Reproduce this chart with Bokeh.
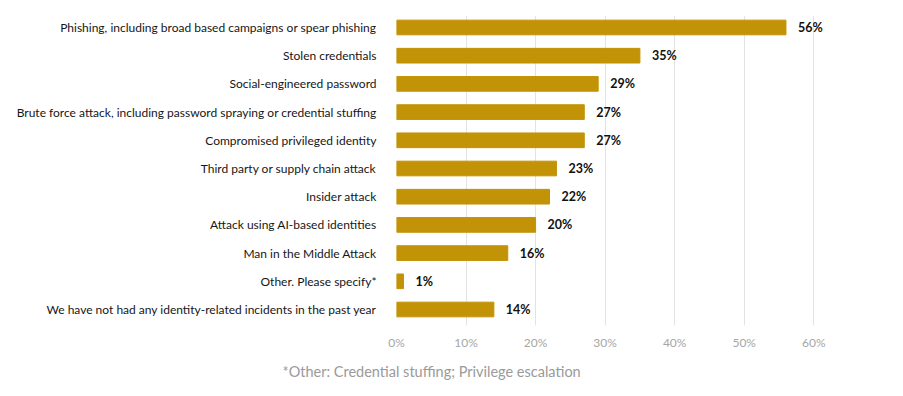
from bokeh.plotting import figure
from bokeh.models import Range1d, FixedTicker, Title, ColumnDataSource, LabelSet
from bokeh.embed import file_html
from bokeh.resources import INLINE
from bokeh.core.properties import value

categories = [
    "Phishing, including broad based campaigns or spear phishing",
    "Stolen credentials",
    "Social-engineered password",
    "Brute force attack, including password spraying or credential stuffing",
    "Compromised privileged identity",
    "Third party or supply chain attack",
    "Insider attack",
    "Attack using AI-based identities",
    "Man in the Middle Attack",
    "Other. Please specify*",
    "We have not had any identity-related incidents in the past year",
]
values = [56, 35, 29, 27, 27, 23, 22, 20, 16, 1, 14]
x_ticks = [0, 10, 20, 30, 40, 50, 60]
footnote = "*Other: Credential stuffing; Privilege escalation"

FONT = "Lato"
BAR = "#C39307"

idx = list(range(len(categories)))
src = ColumnDataSource(dict(
    y=idx, v=values,
    lab=[f"{v}%" for v in values],
))

p = figure(width=900, height=394, output_backend="svg", toolbar_location=None,
           x_range=Range1d(0, 66), y_range=Range1d(10.567, -0.425),
           min_border_left=396, min_border_right=45, min_border_top=15,
           min_border_bottom=69)
p.outline_line_color = None
p.background_fill_color = "white"
p.border_fill_color = "white"

p.hbar(y="y", right="v", left=0, height=0.52, source=src, color=BAR)

labels = LabelSet(x="v", y="y", text="lab", source=src, x_offset=12,
                  text_baseline="middle", text_font=value(FONT),
                  text_font_style="bold", text_font_size="12.5px",
                  text_color="#111111")
p.add_layout(labels)

p.yaxis.ticker = FixedTicker(ticks=idx)
p.yaxis.major_label_overrides = {i: c for i, c in enumerate(categories)}
p.yaxis.major_label_text_font = FONT
p.yaxis.major_label_text_font_size = "12px"
p.yaxis.major_label_text_color = "#161616"
p.yaxis.major_label_standoff = 20
p.yaxis.major_tick_out = 0
p.yaxis.major_tick_in = 0
p.yaxis.major_tick_line_color = None
p.yaxis.minor_tick_line_color = None
p.yaxis.axis_line_color = None

p.xaxis.ticker = FixedTicker(ticks=x_ticks)
p.xaxis.major_label_overrides = {t: f"{t}%" for t in x_ticks}
p.xaxis.major_label_text_font = FONT
p.xaxis.major_label_text_font_size = "12px"
p.xaxis.major_label_text_color = "#a6a6a6"
p.xaxis.major_label_standoff = 9
p.xaxis.major_tick_out = 0
p.xaxis.major_tick_in = 0
p.xaxis.major_tick_line_color = None
p.xaxis.minor_tick_line_color = None
p.xaxis.axis_line_color = None

p.ygrid.grid_line_color = None
p.xgrid.grid_line_color = "#e3e3e3"
p.xgrid.grid_line_width = 1

note = Title(text=footnote, align="left", offset=-114, standoff=16,
             text_font=FONT, text_font_size="14.5px", text_font_style="normal",
             text_color="#9a9a9a")
p.add_layout(note, "below")

open("out.html", "w").write(file_html(p, INLINE))
